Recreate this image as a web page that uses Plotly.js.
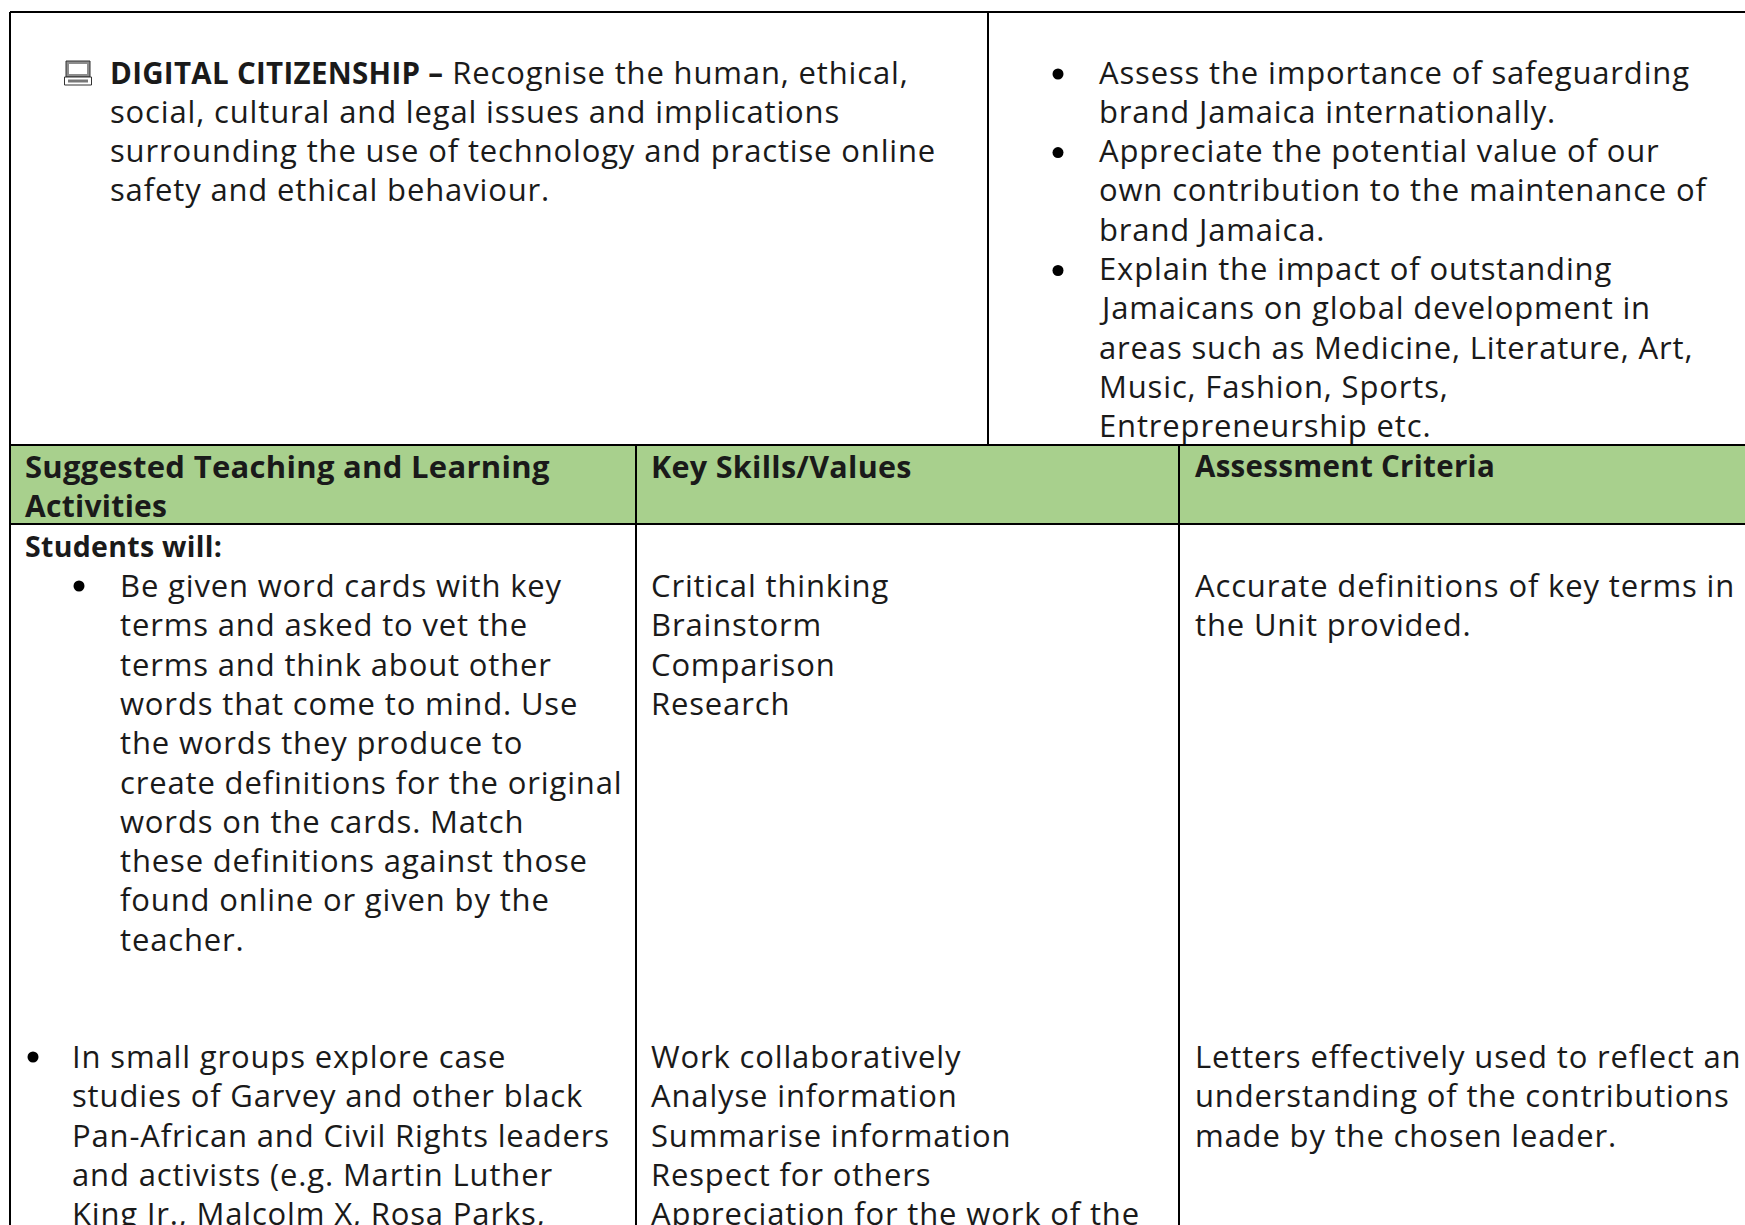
<!DOCTYPE html>
<html>
<head>
<meta charset="utf-8">
<script src="https://cdn.plot.ly/plotly-3.0.1.min.js"></script>
<style>
html,body{margin:0;padding:0;background:#fff;overflow:hidden}
#chart{width:1745px;height:1225px}
.annotation-text{letter-spacing:.85px}
.annotation-text tspan[style*="bold"]{letter-spacing:.3px}
</style>
</head>
<body>
<div id="chart"></div>
<script>
// ---- document text ----
const citizenshipLines = [
  "<span style=\"font-size:29.5px\"><b>DIGITAL CITIZENSHIP –</b></span> Recognise the human, ethical,",
  "social, cultural and legal issues and implications",
  "surrounding the use of technology and practise online",
  "safety and ethical behaviour."
];
const outcomeLines = [
  "Assess the importance of safeguarding",
  "brand Jamaica internationally.",
  "Appreciate the potential value of our",
  "own contribution to the maintenance of",
  "brand Jamaica.",
  "Explain the impact of outstanding",
  "Jamaicans on global development in",
  "areas such as Medicine, Literature, Art,",
  "Music, Fashion, Sports,",
  "Entrepreneurship etc."
];
const headerActivitiesTop = ["<b>Suggested Teaching and Learning</b>"];
const headerActivitiesBottom = ["<b>Activities</b>"];
const headerSkills = ["<b>Key Skills/Values</b>"];
const headerCriteria = ["<b>Assessment Criteria</b>"];
const studentsWill = ["<b>Students will:</b>"];
const activityOne = [
  "Be given word cards with key",
  "terms and asked to vet the",
  "terms and think about other",
  "words that come to mind. Use",
  "the words they produce to",
  "create definitions for the original",
  "words on the cards. Match",
  "these definitions against those",
  "found online or given by the",
  "teacher."
];
const skillsOne = ["Critical thinking", "Brainstorm", "Comparison", "Research"];
const criteriaOne = ["Accurate definitions of key terms in", "the Unit provided."];
const activityTwo = [
  "In small groups explore case",
  "studies of Garvey and other black",
  "Pan-African and Civil Rights leaders",
  "and activists (e.g. Martin Luther",
  "King Jr., Malcolm X, Rosa Parks,"
];
const skillsTwo = [
  "Work collaboratively",
  "Analyse information",
  "Summarise information",
  "Respect for others",
  "Appreciation for the work of the"
];
const criteriaTwo = [
  "Letters effectively used to reflect an",
  "understanding of the contributions",
  "made by the chosen leader."
];

// ---- page geometry (axes run in page pixels) ----
const W = 1745, H = 1225, PITCH = 39.3;
const FONT = "'Open Sans', sans-serif", SIZE = 31, INK = "#1a1a1a";
const GREEN = "#A8D08D";

const annotations = [];
function put(text, x, y, size) {
  annotations.push({
    text, x, y, xref: "x", yref: "y", xanchor: "left", yanchor: "middle",
    showarrow: false, align: "left", borderpad: 0,
    font: {family: FONT, size: size || SIZE, color: INK}
  });
}
function block(lines, x, y, size) { lines.forEach((t, i) => put(t, x, y + i * PITCH, size)); }
function bullet(x, y) {
  shapes.push({type: "circle", xref: "x", yref: "y", x0: x - 5.5, x1: x + 5.5, y0: y - 5.5, y1: y + 5.5,
    fillcolor: "#000", line: {width: 0}});
}
function rule(x0, y0, x1, y1) {
  shapes.push({type: "line", xref: "x", yref: "y", x0, y0, x1, y1, line: {color: "#000", width: 2}});
}
function box(x0, y0, x1, y1, fill, stroke) {
  shapes.push({type: "rect", xref: "x", yref: "y", x0, y0, x1, y1, fillcolor: fill,
    line: stroke ? {color: stroke, width: 1} : {width: 0}});
}

const shapes = [];
// header band
box(10, 445, W, 524, GREEN);
// rules
rule(10, 12, W, 12);
rule(10, 445, W, 445);
rule(10, 524, W, 524);
rule(10, 12, 10, H);
rule(988, 12, 988, 445);
rule(636, 445, 636, H);
rule(1179, 445, 1179, H);
// laptop glyph
box(66, 61, 90, 77, "#8c8c8c", "#333");
box(69, 64, 87, 74, "#ffffff");
box(64.5, 77, 91.5, 85, "#ffffff", "#333");
box(68, 79.5, 88, 82.5, "#777777");

// top row
block(citizenshipLines, 109, 71.5);
block(outcomeLines, 1098, 71.5);
[0, 2, 5].forEach(i => bullet(1058, 74 + i * PITCH));
// header row
block(headerActivitiesTop, 24, 465.5, 31);
block(headerActivitiesBottom, 24, 505, 30);
block(headerSkills, 650, 465.5, 30.5);
block(headerCriteria, 1194, 465.5, 29.5);
// body
block(studentsWill, 24, 545.5, 28.5);
block(activityOne, 119, 585);
bullet(79, 586);
block(skillsOne, 650, 585);
block(criteriaOne, 1194, 585);
block(activityTwo, 71, 1056);
bullet(33, 1057);
block(skillsTwo, 650, 1056);
block(criteriaTwo, 1194, 1056);

Plotly.newPlot("chart", [], {
  width: W, height: H,
  margin: {l: 0, r: 0, t: 0, b: 0},
  paper_bgcolor: "#fff", plot_bgcolor: "#fff",
  xaxis: {range: [0, W], visible: false, fixedrange: true},
  yaxis: {range: [H, 0], visible: false, fixedrange: true},
  shapes, annotations, showlegend: false
}, {displayModeBar: false, staticPlot: true});
</script>
</body>
</html>
